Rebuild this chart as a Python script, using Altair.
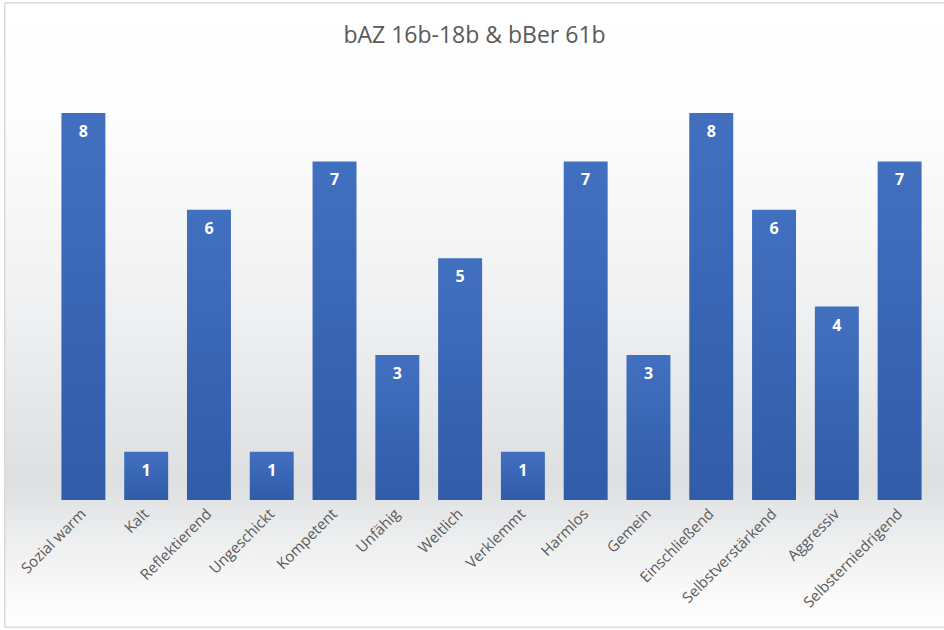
import altair as alt
import pandas as pd

# Eigenschaften und Anzahl der Nennungen
categories = ["Sozial warm", "Kalt", "Reflektierend", "Ungeschickt", "Kompetent",
              "Unfähig", "Weltlich", "Verklemmt", "Harmlos", "Gemein",
              "Einschließend", "Selbstverstärkend", "Aggressiv", "Selbsterniedrigend"]
counts = [8, 1, 6, 1, 7, 3, 5, 1, 7, 3, 8, 6, 4, 7]

df = pd.DataFrame({"Eigenschaft": categories, "Anzahl": counts})

W, H = 879, 387
PAD = {"left": 52, "top": 113, "right": 13, "bottom": 130}
FONT = "Open Sans"

x_enc = alt.X("Eigenschaft:N", sort=categories,
              scale=alt.Scale(paddingInner=0.3, paddingOuter=0.15),
              axis=alt.Axis(title=None, labelAngle=-45, labelAlign="right",
                            labelBaseline="middle", labelPadding=11,
                            labelFontSize=15, labelColor="#595959",
                            labelFont=FONT, domain=False, ticks=False,
                            zindex=1))
y_enc = alt.Y("Anzahl:Q", scale=alt.Scale(domain=[0, 8], nice=False),
              axis=None)

# soft grey backdrop behind the whole chart
backdrop = alt.Chart(df).mark_rect(
    stroke="#d9d9d9", strokeWidth=1, clip=False,
    color=alt.Gradient(
        gradient="linear", x1=0, x2=0, y1=0, y2=1,
        stops=[alt.GradientStop(offset=0.0, color="#ffffff"),
               alt.GradientStop(offset=0.18, color="#fdfdfd"),
               alt.GradientStop(offset=0.48, color="#f0f1f2"),
               alt.GradientStop(offset=0.77, color="#dddfe1"),
               alt.GradientStop(offset=0.84, color="#eaebec"),
               alt.GradientStop(offset=0.94, color="#f9f9f9"),
               alt.GradientStop(offset=1.0, color="#ffffff")])
).encode(
    x=alt.value(-PAD["left"] + 5), x2=alt.value(W + PAD["right"] + 2),
    y=alt.value(-PAD["top"] + 3), y2=alt.value(H + PAD["bottom"] - 3)
)

bars = alt.Chart(df).mark_bar(
    color=alt.Gradient(
        gradient="linear", x1=0, x2=0, y1=0, y2=1,
        stops=[alt.GradientStop(offset=0.0, color="#4270c0"),
               alt.GradientStop(offset=1.0, color="#305ca8")])
).encode(x=x_enc, y=y_enc)

labels = alt.Chart(df).mark_text(
    color="white", fontWeight="bold", fontSize=16, font=FONT,
    baseline="middle", dy=19
).encode(x=alt.X("Eigenschaft:N", sort=categories), y=y_enc, text="Anzahl:Q")

# the title sits on top of the backdrop's upper edge, so pull it back down
chart = alt.layer(backdrop, bars, labels).properties(
    width=W, height=H,
    title=alt.TitleParams("bAZ 16b-18b & bBer 61b", font=FONT, fontSize=23,
                          fontWeight="normal", color="#595959",
                          anchor="middle", frame="group", dx=-17, offset=-45,
                          zindex=1),
    autosize=alt.AutoSizeParams(type="none"),
    padding=PAD,
    background="white"
).configure_view(stroke=None)

chart.save("out.html", embed_options={"renderer": "svg", "actions": False})
